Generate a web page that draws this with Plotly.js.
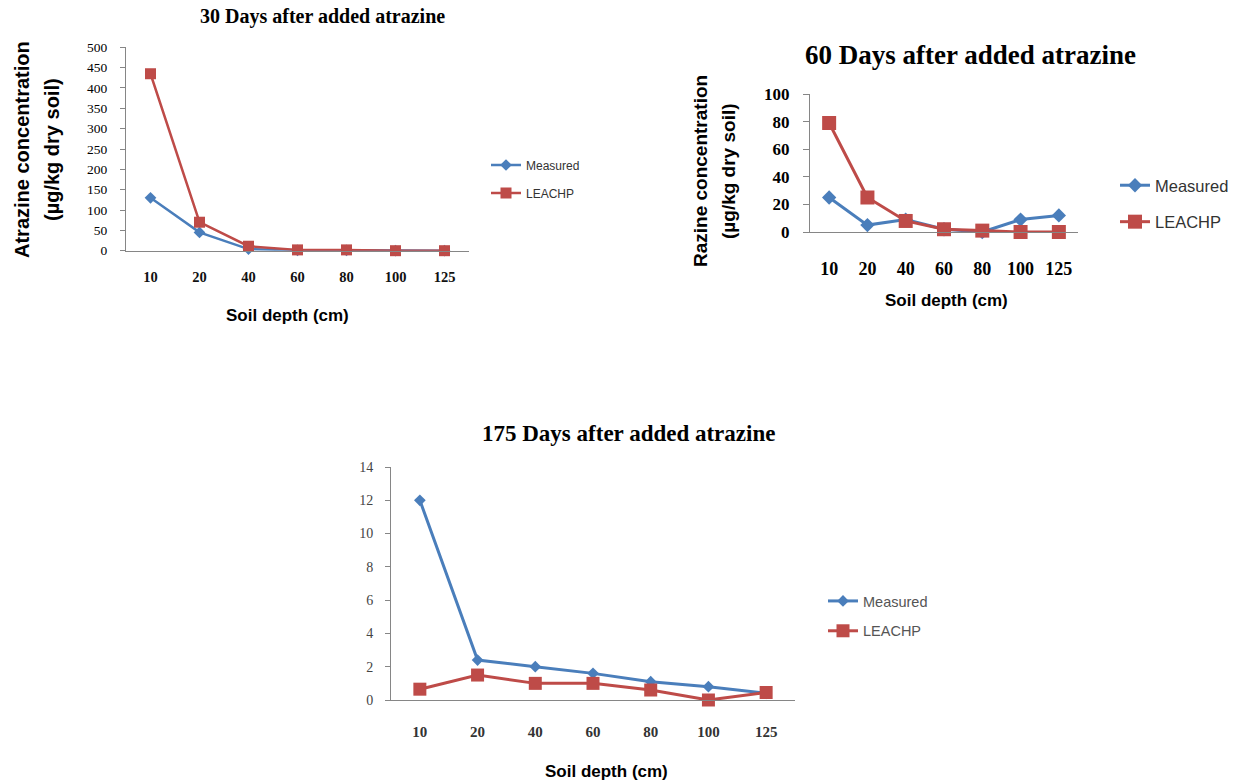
<!DOCTYPE html>
<html>
<head>
<meta charset="utf-8">
<script src="https://cdn.plot.ly/plotly-3.0.1.min.js"></script>
<style>html,body{margin:0;padding:0;background:#fff;}#chart{width:1243px;height:784px;}</style>
</head>
<body>
<div id="chart"></div>
<script>
// ---- data ----
const depths = ['10', '20', '40', '60', '80', '100', '125'];
const measured30 = [130, 45, 4, 1, 1, 0, 0];
const leachp30 = [435, 70, 11, 2, 2, 0, 0];
const measured60 = [25, 5, 9, 2, 0, 9, 12];
const leachp60 = [79, 25, 8, 2, 1, 0, 0];
const measured175 = [12, 2.4, 2, 1.6, 1.1, 0.8, 0.4];
const leachp175 = [0.65, 1.5, 1, 1, 0.6, 0, 0.45];
const seriesNames = ['Measured', 'LEACHP'];
const titles = ['30 Days after added atrazine', '60 Days after added atrazine', '175 Days after added atrazine'];
const xTitle = 'Soil depth (cm)';

// ---- styles ----
const W = 1243, H = 784;
const px = v => v / W;
const py = v => 1 - v / H;
const SERIF = 'Liberation Serif, Times New Roman, serif';
const SANS = 'Liberation Sans, Arial, sans-serif';
const BLUE = '#4A7EBB';
const RED = '#BE4B48';
const AXC = '#868686';

function tr(x, y, name, axis, legend, color, symbol, msize, lw) {
  return {
    x: x, y: y, name: name, type: 'scatter', mode: 'lines+markers',
    xaxis: 'x' + axis, yaxis: 'y' + axis, legend: legend,
    legendgroup: legend + name,
    line: {color: color, width: lw},
    marker: {color: color, symbol: symbol, size: msize},
    cliponaxis: false, hoverinfo: 'x+y+name'
  };
}

const data = [
  tr(depths, measured30, seriesNames[0], '', 'legend', BLUE, 'diamond', 9, 2.5),
  tr(depths, leachp30, seriesNames[1], '', 'legend', RED, 'square', 11, 2.5),
  tr(depths, measured60, seriesNames[0], '2', 'legend2', BLUE, 'diamond', 11, 3),
  tr(depths, leachp60, seriesNames[1], '2', 'legend2', RED, 'square', 14, 3),
  tr(depths, measured175, seriesNames[0], '3', 'legend3', BLUE, 'diamond', 9, 3),
  tr(depths, leachp175, seriesNames[1], '3', 'legend3', RED, 'square', 13, 3)
];

function xax(dom, anchor, font, standoff) {
  return {
    domain: dom, anchor: anchor, type: 'category', range: [-0.5, 6.5],
    showline: true, linecolor: AXC, linewidth: 1, ticks: '', showgrid: false,
    zeroline: false, tickfont: font, ticklabelstandoff: standoff, fixedrange: true
  };
}
function yax(dom, anchor, range, dtick, font, ticklen, standoff) {
  return {
    domain: dom, anchor: anchor, range: range, dtick: dtick,
    showline: true, linecolor: AXC, linewidth: 1, ticks: 'outside', ticklen: ticklen,
    tickcolor: AXC, showgrid: false, zeroline: false, tickfont: font,
    ticklabelstandoff: standoff, fixedrange: true
  };
}

function ann(text, x, y, font, angle) {
  return {text: text, x: px(x), y: py(y), xref: 'paper', yref: 'paper',
    xanchor: 'center', yanchor: 'middle', showarrow: false, font: font, textangle: angle || 0};
}

const layout = {
  width: W, height: H,
  margin: {l: 0, r: 0, t: 0, b: 0},
  paper_bgcolor: '#fff', plot_bgcolor: 'rgba(0,0,0,0)',
  xaxis: xax([px(126), px(469)], 'y', {family: SERIF, size: 14.5, color: '#111', weight: 'bold'}, 13),
  yaxis: yax([py(250.7), py(47.3)], 'x', [0, 500], 50, {family: SERIF, size: 13.5, color: '#000'}, 5, 10),
  xaxis2: xax([px(810), px(1078)], 'y2', {family: SERIF, size: 18, color: '#000', weight: 'bold'}, 20),
  yaxis2: yax([py(232), py(94)], 'x2', [0, 100], 20, {family: SERIF, size: 17, color: '#000', weight: 'bold'}, 6, 10),
  xaxis3: xax([px(391), px(795)], 'y3', {family: SERIF, size: 15, color: '#333', weight: 'bold'}, 18),
  yaxis3: yax([py(700), py(467)], 'x3', [0, 14], 2, {family: SERIF, size: 14, color: '#444'}, 5, 9),
  legend: {x: px(486), y: py(179), xanchor: 'left', yanchor: 'middle',
    font: {family: SANS, size: 12, color: '#333'}, bgcolor: 'rgba(0,0,0,0)', tracegroupgap: 9},
  legend2: {x: px(1115), y: py(203.5), xanchor: 'left', yanchor: 'middle',
    font: {family: SANS, size: 16.5, color: '#333'}, bgcolor: 'rgba(0,0,0,0)', tracegroupgap: 12},
  legend3: {x: px(823), y: py(616), xanchor: 'left', yanchor: 'middle',
    font: {family: SANS, size: 14.5, color: '#555'}, bgcolor: 'rgba(0,0,0,0)', tracegroupgap: 8},
  annotations: [
    ann(titles[0], 322, 16, {family: SERIF, size: 20, color: '#000', weight: 'bold'}),
    ann(titles[1], 970, 55, {family: SERIF, size: 27, color: '#000', weight: 'bold'}),
    ann(titles[2], 628, 433, {family: SERIF, size: 23, color: '#000', weight: 'bold'}),
    ann('Atrazine concentration', 22, 150, {family: SANS, size: 20, color: '#000', weight: 'bold'}, -90),
    ann('(µg/kg dry soil)', 52, 150, {family: SANS, size: 20, color: '#000', weight: 'bold'}, -90),
    ann('Razine concentration', 700, 171, {family: SANS, size: 19, color: '#000', weight: 'bold'}, -90),
    ann('(µg/kg dry soil)', 728, 171, {family: SANS, size: 19, color: '#000', weight: 'bold'}, -90),
    ann(xTitle, 287, 315, {family: SANS, size: 17, color: '#000', weight: 'bold'}),
    ann(xTitle, 946, 300, {family: SANS, size: 17, color: '#000', weight: 'bold'}),
    ann(xTitle, 606, 771, {family: SANS, size: 17, color: '#000', weight: 'bold'})
  ],
  showlegend: true
};

Plotly.newPlot('chart', data, layout, {displayModeBar: false, staticPlot: false});
</script>
</body>
</html>
